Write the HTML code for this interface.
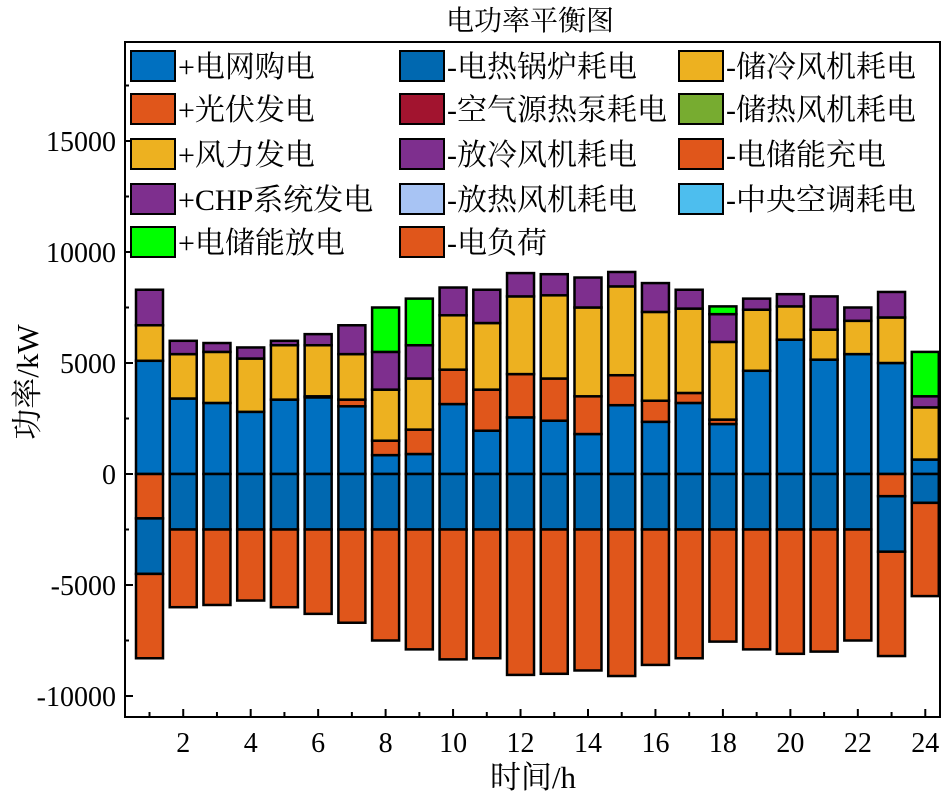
<!DOCTYPE html>
<html><head><meta charset="utf-8">
<style>
body{margin:0;background:#fff;}
svg{display:block;font-family:"Liberation Serif","Noto Serif CJK SC","Noto Sans CJK SC",serif;}
</style></head>
<body>
<svg id="chart" width="944" height="800" viewBox="0 0 944 800">
<text x="530" y="30" font-size="28" text-anchor="middle">电功率平衡图</text>
<g id="bars"></g>
<rect x="125" y="42" width="815" height="675" fill="none" stroke="#000" stroke-width="2"/>
<g id="axes"></g>
<g id="legend"></g>
<text transform="translate(38,382) rotate(-90)" font-size="31" text-anchor="middle">功率/kW</text>
<text x="533" y="788" font-size="31" text-anchor="middle">时间/h</text>
</svg>
<script>
const hours=[1,2,3,4,5,6,7,8,9,10,11,12,13,14,15,16,17,18,19,20,21,22,23,24];
const gridBuy=[5100,3400,3200,2800,3350,3450,3050,850,900,3150,1950,2550,2400,1800,3100,2350,3200,2250,4650,6050,5150,5400,5000,650];
const pvGen=[0,0,0,0,0,50,300,650,1100,1550,1850,1950,1900,1700,1350,950,450,200,0,0,0,0,0,0];
const windGen=[1600,2000,2300,2400,2450,2300,2050,2300,2300,2450,3000,3500,3750,4000,4000,4000,3800,3500,2750,1500,1350,1500,2050,2350];
const chpGen=[1600,600,400,500,200,500,1300,1700,1500,1250,1500,1050,950,1350,650,1300,850,1250,500,550,1500,600,1150,500];
const essDis=[0,0,0,0,0,0,0,2000,2100,0,0,0,0,0,0,0,0,350,0,0,0,0,0,2000];
const essChg=[2000,0,0,0,0,0,0,0,0,0,0,0,0,0,0,0,0,0,0,0,0,0,1000,0];
const boiler=[2500,2500,2500,2500,2500,2500,2500,2500,2500,2500,2500,2500,2500,2500,2500,2500,2500,2500,2500,2500,2500,2500,2500,1300];
const load=[3800,3500,3400,3200,3500,3800,4200,5000,5400,5850,5800,6550,6500,6350,6600,6100,5800,5050,5400,5600,5500,5000,4700,4200];
const yTicks=[-10000,-5000,0,5000,10000,15000];
const xTicks=[2,4,6,8,10,12,14,16,18,20,22,24];
const NS="http://www.w3.org/2000/svg";
function yS(v){return 474-v*0.0222;}
function xS(h){return 149.5+(h-1)*33.73;}
const barsG=document.getElementById('bars');
const posSeries=[[gridBuy,'#0070C0','grid'],[pvGen,'#E0561B','pv'],[windGen,'#EDB120','wind'],[chpGen,'#7E2F8E','chp'],[essDis,'#00FF00','ess-discharge']];
const negSeries=[[essChg,'#E0561B','ess-charge'],[boiler,'#0068B0','boiler'],[load,'#E0561B','load']];
function bar(h,v0,v1,color,name){
  if(Math.abs(v1-v0)<1)return;
  const r=document.createElementNS(NS,'rect');
  const ya=yS(Math.max(v0,v1)),yb=yS(Math.min(v0,v1));
  r.setAttribute('x',xS(h)-13.5);r.setAttribute('y',ya);
  r.setAttribute('width',27);r.setAttribute('height',yb-ya);
  r.setAttribute('fill',color);r.setAttribute('stroke','#000');r.setAttribute('stroke-width','2.5');
  
  
  barsG.appendChild(r);
}
hours.forEach((h,i)=>{
  let acc=0;
  posSeries.forEach(s=>{bar(h,acc,acc+s[0][i],s[1],'bar-'+s[2]+'-h'+h);acc+=s[0][i];});
  acc=0;
  negSeries.forEach(s=>{bar(h,acc,acc-s[0][i],s[1],'bar-'+s[2]+'-h'+h);acc-=s[0][i];});
});
const ax=document.getElementById('axes');
function line(x1,y1,x2,y2){const l=document.createElementNS(NS,'line');l.setAttribute('x1',x1);l.setAttribute('y1',y1);l.setAttribute('x2',x2);l.setAttribute('y2',y2);l.setAttribute('stroke','#000');l.setAttribute('stroke-width','2');ax.appendChild(l);}
function txt(x,y,s,anchor,name){const t=document.createElementNS(NS,'text');t.setAttribute('x',x);t.setAttribute('y',y);t.setAttribute('font-size','28');t.setAttribute('text-anchor',anchor);t.textContent=s;
  
  
  ax.appendChild(t);}
yTicks.forEach(v=>{line(125,yS(v),133,yS(v));line(125,yS(v+2500),129,yS(v+2500));txt(116,yS(v)+10,String(v),'end','y-tick-label');});
xTicks.forEach(h=>{line(xS(h),717,xS(h),709);line(xS(h-1),717,xS(h-1),712);txt(xS(h),752,String(h),'middle','x-tick-label');});
const legendItems=[
 ['+电网购电','#0070C0',131,66],['+光伏发电','#E0561B',131,109],['+风力发电','#EDB120',131,154],['+CHP系统发电','#7E2F8E',131,199],['+电储能放电','#00FF00',131,242],
 ['-电热锅炉耗电','#0068B0',400,66],['-空气源热泵耗电','#A2142F',400,109],['-放冷风机耗电','#7E2F8E',400,154],['-放热风机耗电','#A8C4F4',400,199],['-电负荷','#E0561B',400,242],
 ['-储冷风机耗电','#EDB120',679,66],['-储热风机耗电','#77AC30',679,109],['-电储能充电','#E0561B',679,154],['-中央空调耗电','#4DBEEE',679,199]];
const lg=document.getElementById('legend');
legendItems.forEach(it=>{
  const g=document.createElementNS(NS,'g');
  
  
  const r=document.createElementNS(NS,'rect');
  r.setAttribute('x',it[2]);r.setAttribute('y',it[3]-15);r.setAttribute('width',44);r.setAttribute('height',30);
  r.setAttribute('fill',it[1]);r.setAttribute('stroke','#000');r.setAttribute('stroke-width','2');
  g.appendChild(r);
  const t=document.createElementNS(NS,'text');
  t.setAttribute('x',it[2]+47);t.setAttribute('y',it[3]+11);t.setAttribute('font-size','30');t.textContent=it[0];
  g.appendChild(t);
  lg.appendChild(g);
});
</script>
</body></html>
